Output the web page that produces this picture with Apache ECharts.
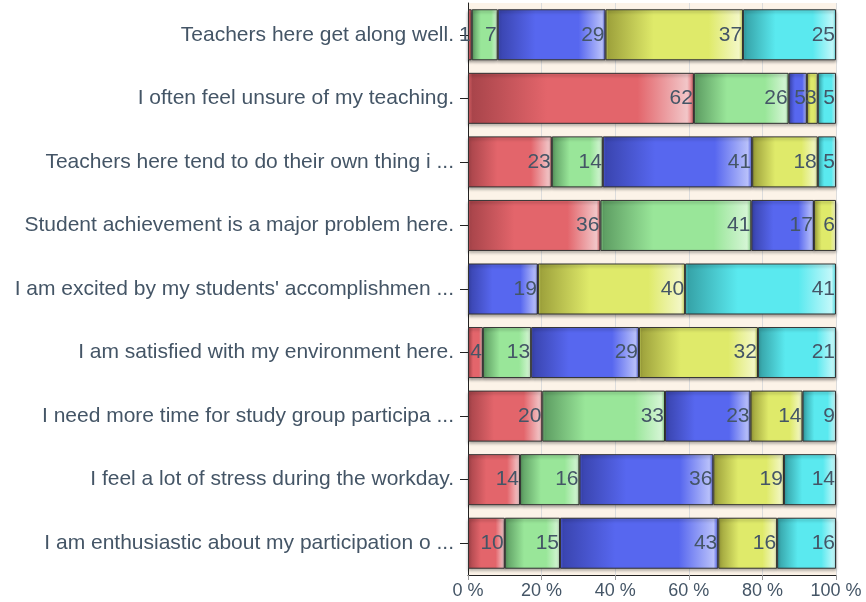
<!DOCTYPE html>
<html>
<head>
<meta charset="utf-8">
<script src="https://cdn.jsdelivr.net/npm/echarts@6/dist/echarts.min.js"></script>
<style>
  html, body { margin: 0; padding: 0; background: #fff; }
  #chart { width: 866px; height: 602px; }
</style>
</head>
<body>
<div id="chart"></div>
<script>
// questions, top to bottom
var questions = [
  'Teachers here get along well.',
  'I often feel unsure of my teaching.',
  'Teachers here tend to do their own thing i ...',
  'Student achievement is a major problem here.',
  "I am excited by my students' accomplishmen ...",
  'I am satisfied with my environment here.',
  'I need more time for study group participa ...',
  'I feel a lot of stress during the workday.',
  'I am enthusiastic about my participation o ...'
];
// answer values per level (as printed on the bars)
var level1 = [1, 62, 23, 36, 0, 4, 20, 14, 10];
var level2 = [7, 26, 14, 41, 0, 13, 33, 16, 15];
var level3 = [29, 5, 41, 17, 19, 29, 23, 36, 43];
var level4 = [37, 3, 18, 6, 40, 32, 14, 19, 16];
var level5 = [25, 5, 5, 0, 41, 21, 9, 14, 16];
var xTicks = ['0 %', '20 %', '40 %', '60 %', '80 %', '100 %'];

var levels = [level1, level2, level3, level4, level5];
var colors = [
  ['#e3656b', '#a9454b', '#f2c6c8'],
  ['#99e699', '#5e9e63', '#d4f5d4'],
  ['#5767ef', '#3a45b0', '#b8c0fa'],
  ['#dfea6a', '#9ea23c', '#f3f7c5'],
  ['#5ae9ef', '#36a3a8', '#c2f8fa']
];
var font = '"Liberation Sans", Arial, sans-serif';

// totals per row, so every row fills 100 %
var totals = questions.map(function(q, i){
  var s = 0;
  for (var k = 0; k < levels.length; k++) s += levels[k][i];
  return s;
});

var chart = echarts.init(document.getElementById('chart'));

var series = levels.map(function(vals, k){
  var c = colors[k];
  return {
    type: 'bar',
    stack: 'all',
    barWidth: 51,
    data: vals.map(function(v, i){
      if (v === 0) return '-';   // nothing drawn for empty answers
      return { value: v / totals[i] * 100, raw: v };
    }),
    itemStyle: {
      color: {
        type: 'linear', x: 0, y: 0, x2: 1, y2: 0,
        colorStops: [
          { offset: 0, color: c[0] },
          { offset: 0.02, color: c[1] },
          { offset: 0.35, color: c[0] },
          { offset: 0.75, color: c[0] },
          { offset: 0.97, color: c[2] },
          { offset: 1, color: c[0] }
        ]
      },
      borderColor: '#333',
      borderWidth: 1,
      shadowColor: 'rgba(0,0,0,0.35)',
      shadowBlur: 3,
      shadowOffsetY: 2
    },
    label: {
      show: true,
      position: 'insideRight',
      distance: 1,
      color: '#445566',
      fontSize: 21,
      fontFamily: font,
      formatter: function(p){
        return p.data && p.data.raw ? String(p.data.raw) : '';
      }
    }
  };
});

var option = {
  animation: false,
  backgroundColor: '#fff',
  grid: {
    left: 468, right: 30, top: 3, bottom: 27,
    show: true, backgroundColor: '#fcf3e8', borderWidth: 0
  },
  xAxis: {
    type: 'value',
    min: 0, max: 100, interval: 20,
    axisLine: { show: true, lineStyle: { color: '#222' } },
    axisTick: { show: true, length: 5, lineStyle: { color: '#999' } },
    splitLine: { show: true, lineStyle: { color: '#dcdcdc' } },
    axisLabel: {
      color: '#445566', fontSize: 18, margin: 7,
      fontFamily: font,
      formatter: function(v){ return xTicks[v / 20]; }
    }
  },
  yAxis: {
    type: 'category',
    inverse: true,
    data: questions,
    axisLine: { show: true, lineStyle: { color: '#222' } },
    axisTick: { show: true, length: 8, alignWithLabel: true, lineStyle: { color: '#222' } },
    axisLabel: {
      color: '#445566', fontSize: 21, margin: 14,
      fontFamily: font
    }
  },
  series: series
};
chart.setOption(option);
</script>
</body>
</html>
